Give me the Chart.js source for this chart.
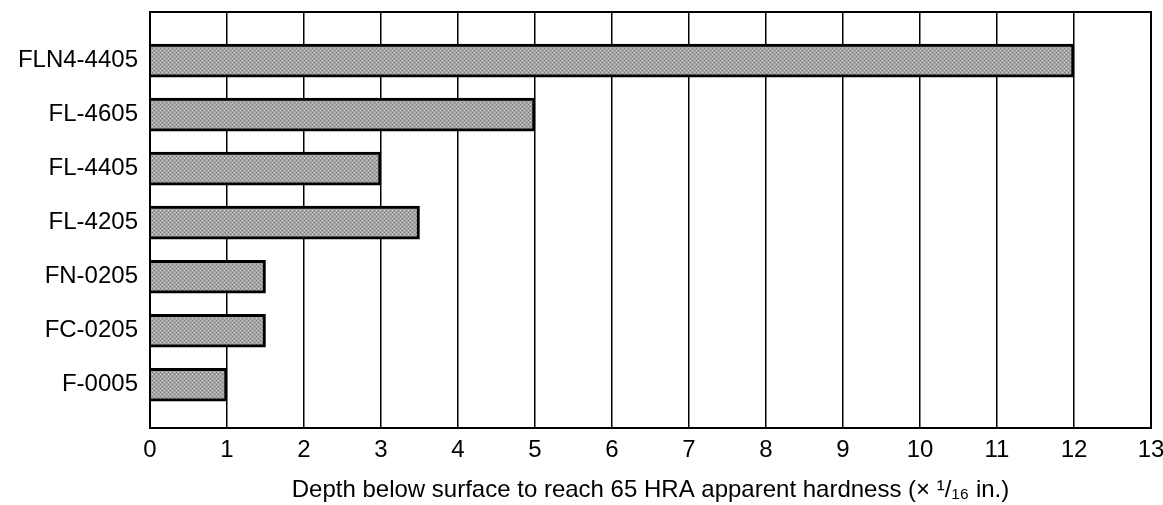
<!DOCTYPE html>
<html lang="en">
<head>
  <meta charset="UTF-8">
  <title>Depth to reach 65 HRA</title>
  <script src="https://cdn.jsdelivr.net/npm/chart.js"></script>
  <style>
    body { margin: 0; background: white; }
    #wrap { width: 1163px; height: 505px; }
  </style>
</head>
<body>
  <div id="wrap"><canvas id="barChart"></canvas></div>

  <script>
    const materials = ['FLN4-4405', 'FL-4605', 'FL-4405', 'FL-4205', 'FN-0205', 'FC-0205', 'F-0005'];
    const depths = [12, 5, 3, 3.5, 1.5, 1.5, 1];
    const xTicks = [0, 1, 2, 3, 4, 5, 6, 7, 8, 9, 10, 11, 12, 13];

    // halftone-ish grey fill like the printed figure
    function makePattern() {
      const c = document.createElement('canvas');
      c.width = 4; c.height = 4;
      const g = c.getContext('2d');
      g.fillStyle = '#a4a4a4';
      g.fillRect(0, 0, 4, 4);
      g.fillStyle = '#7a7a7a';
      g.fillRect(0, 0, 1, 1);
      g.fillRect(2, 2, 1, 1);
      g.fillStyle = '#d2d2d2';
      g.fillRect(2, 0, 1, 1);
      g.fillRect(0, 2, 1, 1);
      return g.createPattern(c, 'repeat');
    }

    const frame = {
      id: 'frame',
      afterDraw(chart) {
        const a = chart.chartArea, ctx = chart.ctx;
        ctx.save();
        ctx.strokeStyle = '#000';
        ctx.lineWidth = 2;
        ctx.strokeRect(a.left, a.top, a.right - a.left, a.bottom - a.top);
        ctx.restore();
      }
    };

    const tickFont = { family: '"Liberation Sans", Arial, sans-serif', size: 24 };
    const titleFont = { family: '"Liberation Sans", Arial, sans-serif', size: 24 };

    new Chart(document.getElementById('barChart'), {
      type: 'bar',
      data: {
        datasets: [{
          data: depths.map((v, i) => ({ x: v, y: i })),
          backgroundColor: makePattern(),
          borderColor: '#000',
          borderWidth: 3,
          barThickness: 33
        }]
      },
      options: {
        indexAxis: 'y',
        responsive: true,
        maintainAspectRatio: false,
        animation: false,
        layout: { padding: { top: 12, right: 12, left: 0, bottom: 0 } },
        plugins: { legend: { display: false }, tooltip: { enabled: false } },
        scales: {
          x: {
            type: 'linear',
            min: 0,
            max: 13,
            afterBuildTicks: s => { s.ticks = xTicks.map(v => ({ value: v })); },
            ticks: { color: '#000', font: tickFont, padding: 8, maxRotation: 0 },
            grid: { color: '#000', lineWidth: 1.5, drawTicks: false },
            border: { display: false },
            title: {
              display: true,
              text: 'Depth below surface to reach 65 HRA apparent hardness (× ¹/₁₆ in.)',
              color: '#000',
              font: titleFont,
              padding: { top: 6, bottom: 0 }
            },
            afterFit: s => { s.height = 77; s.paddingLeft = 0; s.paddingRight = 0; }
          },
          y: {
            type: 'linear',
            reverse: true,
            offset: false,
            min: -0.9,
            max: 6.8,
            afterBuildTicks: s => { s.ticks = materials.map((m, i) => ({ value: i })); },
            ticks: {
              color: '#000',
              font: tickFont,
              padding: 12,
              callback: v => materials[v]
            },
            grid: { display: false, drawTicks: false },
            border: { display: false },
            afterFit: s => { s.width = 150; s.paddingTop = 0; s.paddingBottom = 0; }
          }
        }
      },
      plugins: [frame]
    });
  </script>
</body>
</html>
